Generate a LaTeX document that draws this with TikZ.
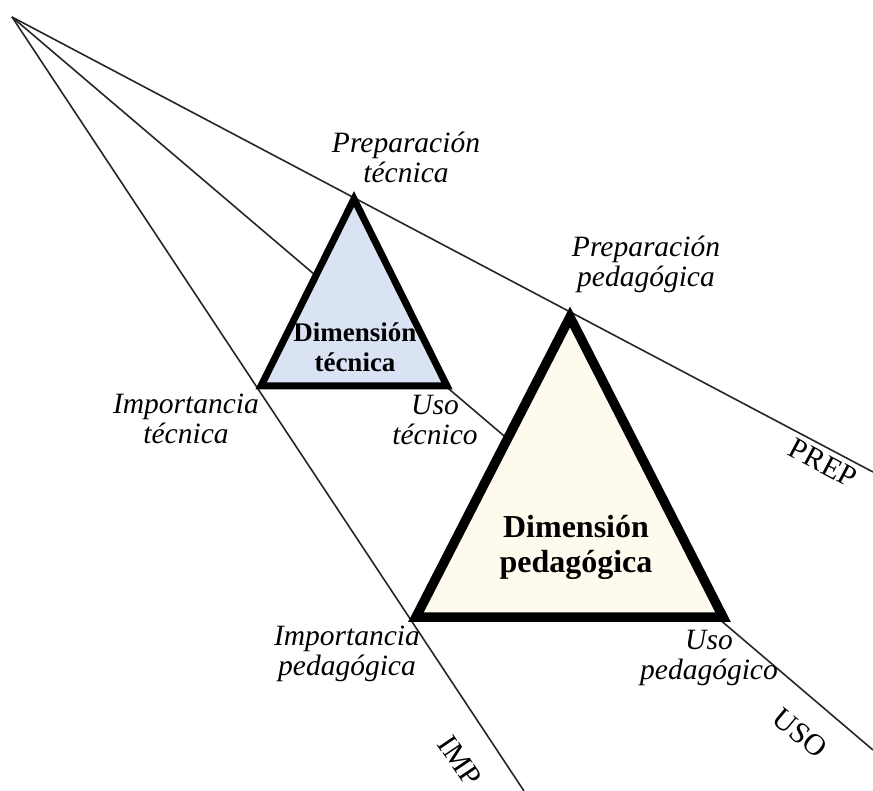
\documentclass[tikz,border=0pt]{standalone}
\usepackage{fontspec}
\setmainfont{Liberation Serif}
\begin{document}
\begin{tikzpicture}[x=1pt,y=-1pt,
  axis/.style={draw=black!85, line width=1.6pt},
  tri/.style={draw=black, line join=miter},
  lbl/.style={font=\fontsize{29.5}{30}\selectfont\itshape, align=center, inner sep=0pt, anchor=base},
  axlbl/.style={font=\fontsize{30}{32}\selectfont, inner sep=0pt},
  dimlbl/.style={align=center, inner sep=0pt, anchor=base}
]
\definecolor{techfill}{RGB}{218,227,243}
\definecolor{pedfill}{RGB}{255,250,238}
\useasboundingbox (0,0) rectangle (873,791);

% common origin and the three rays
\coordinate (O) at (12,17);
\coordinate (prepEnd) at (873,472);
\coordinate (usoEnd) at (873,750);
\coordinate (impEnd) at (524,791);
\draw[axis] (O) -- (prepEnd);
\draw[axis] (O) -- (usoEnd);
\draw[axis] (O) -- (impEnd);

% technical dimension
\coordinate (tA) at (354,199);
\coordinate (tL) at (261,386);
\coordinate (tR) at (447,386);
\filldraw[tri, fill=techfill, line width=7pt] (tA) -- (tR) -- (tL) -- cycle;

% pedagogical dimension
\coordinate (pA) at (570,317);
\coordinate (pL) at (416,617);
\coordinate (pR) at (723,617);
\filldraw[tri, fill=pedfill, line width=9.5pt] (pA) -- (pR) -- (pL) -- cycle;

% triangle titles (anchored at the baseline of the last line)
\node[dimlbl, font=\fontsize{27}{30}\selectfont\bfseries] (tTitle) at (355,372) {Dimensión\\técnica};
\node[dimlbl, font=\fontsize{32}{35}\selectfont\bfseries] (pTitle) at (576,572) {Dimensión\\pedagógica};

% vertex labels
\node[lbl] (prepT) at (406,183) {Preparación\\técnica};
\node[lbl] (prepP) at (646,287) {Preparación\\pedagógica};
\node[lbl] (impT) at (186,443) {Importancia\\técnica};
\node[lbl] (usoT) at (435,445) {Uso\\técnico};
\node[lbl] (impP) at (347,675) {Importancia\\pedagógica};
\node[lbl] (usoP) at (709,679) {Uso\\pedagógico};

% ray names
\node[axlbl, rotate=-28] (prepName) at (823,463) {PREP};
\node[axlbl, rotate=-40] (usoName) at (800,733) {USO};
\node[axlbl, rotate=-56] (impName) at (460,761) {IMP};
\end{tikzpicture}
\end{document}
